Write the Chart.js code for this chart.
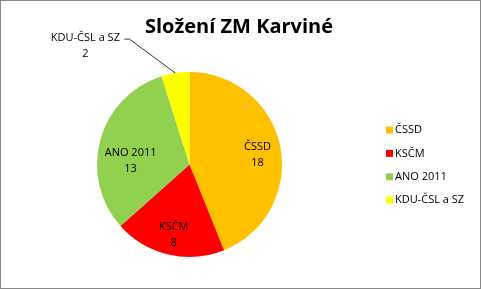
<!DOCTYPE html>
<html>
<head>
<meta charset="utf-8">
<script src="https://cdn.jsdelivr.net/npm/chart.js@4"></script>
<style>
  html, body { margin: 0; padding: 0; background: #fff; }
  #wrap { width: 481px; height: 289px; }
</style>
</head>
<body>
<div id="wrap"><canvas id="pieChart" width="481" height="289"></canvas></div>
<script>
const chartTitle = "Složení ZM Karviné";
const parties = ["ČSSD", "KSČM", "ANO 2011", "KDU-ČSL a SZ"];
const seats = [18, 8, 13, 2];
const partyColors = ["#FFC000", "#FF0000", "#92D050", "#FFFF00"];

const FONT = "'Open Sans', 'Noto Sans', sans-serif";

// popisky, legenda, titulek a rámeček
const decorPlugin = {
    id: "decor",
    afterDraw(chart) {
        const ctx = chart.ctx;
        const meta = chart.getDatasetMeta(0);
        const labels = chart.data.labels;
        const values = chart.data.datasets[0].data;
        const colors = chart.data.datasets[0].backgroundColor;

        ctx.save();

        // rámeček
        ctx.strokeStyle = "#878787";
        ctx.lineWidth = 1;
        ctx.strokeRect(0.5, 0.5, 480, 288);

        // titulek
        ctx.fillStyle = "#000";
        ctx.font = "bold 20px " + FONT;
        ctx.textAlign = "center";
        ctx.textBaseline = "middle";
        ctx.fillText(chartTitle, 239, 27);

        // popisky výsečí
        ctx.font = "11px " + FONT;
        const nudge = [[0, 4], [0, 3], [8, 15], [0, 0]];
        meta.data.forEach((arc, i) => {
            const p = arc.getProps(["x", "y", "startAngle", "endAngle", "outerRadius"], true);
            const mid = (p.startAngle + p.endAngle) / 2;
            if (values[i] / values.reduce((a, b) => a + b, 0) > 0.08) {
                const r = p.outerRadius * 0.75;
                const cx = p.x + Math.cos(mid) * r + nudge[i][0];
                const cy = p.y + Math.sin(mid) * r + nudge[i][1];
                ctx.fillText(labels[i], cx, cy - 8);
                ctx.fillText(String(values[i]), cx, cy + 8);
            } else {
                // vnější popisek s odkazovou čarou
                const ex = p.x + Math.cos(mid) * p.outerRadius;
                const ey = p.y + Math.sin(mid) * p.outerRadius;
                ctx.strokeStyle = "#000";
                ctx.lineWidth = 0.8;
                ctx.beginPath();
                ctx.moveTo(ex, ey);
                ctx.lineTo(ex - 46, ey - 34);
                ctx.lineTo(ex - 51, ey - 34);
                ctx.stroke();
                ctx.fillText(labels[i], ex - 90, ey - 35);
                ctx.fillText(String(values[i]), ex - 90, ey - 19);
            }
        });

        // legenda
        ctx.textAlign = "left";
        labels.forEach((lab, i) => {
            const y = 130 + i * 23.4;
            ctx.fillStyle = colors[i];
            ctx.fillRect(386, y - 3.5, 7, 7);
            ctx.fillStyle = "#000";
            ctx.fillText(lab, 395, y);
        });

        ctx.restore();
    }
};

new Chart(document.getElementById("pieChart"), {
    type: "pie",
    data: {
        labels: parties,
        datasets: [{
            data: seats,
            backgroundColor: partyColors,
            borderWidth: 0
        }]
    },
    options: {
        responsive: false,
        animation: false,
        layout: {
            padding: { left: 97, right: 199, top: 72, bottom: 32 }
        },
        plugins: {
            legend: { display: false },
            tooltip: { enabled: false },
            title: { display: false }
        }
    },
    plugins: [decorPlugin]
});
</script>
</body>
</html>
